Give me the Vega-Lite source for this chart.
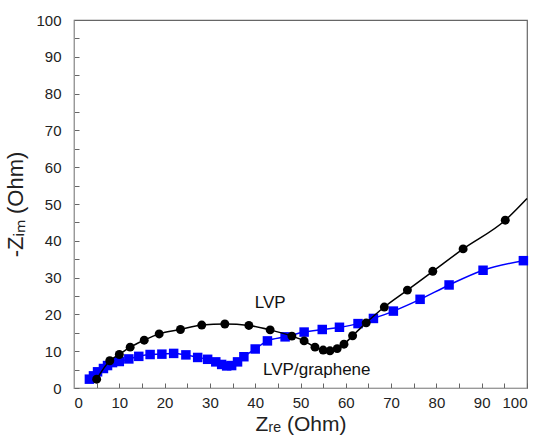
{
  "$schema": "https://vega.github.io/schema/vega-lite/v6.json",
  "width": 453,
  "height": 368,
  "autosize": {"type": "none"},
  "padding": {"left": 74, "top": 20, "right": 14, "bottom": 47},
  "background": "white",
  "config": {
    "view": {"stroke": "#666", "strokeWidth": 1.2},
    "font": "Liberation Sans"
  },
  "datasets": {
    "lvp": [
      {"x": 5.0, "y": 2.4, "m": 1},
      {"x": 7.9, "y": 7.4, "m": 1},
      {"x": 10.0, "y": 9.1, "m": 1},
      {"x": 12.4, "y": 11.1, "m": 1},
      {"x": 15.5, "y": 13.0, "m": 1},
      {"x": 18.8, "y": 14.7, "m": 1},
      {"x": 23.5, "y": 15.9, "m": 1},
      {"x": 28.2, "y": 17.1, "m": 1},
      {"x": 33.3, "y": 17.4, "m": 1},
      {"x": 38.6, "y": 17.0, "m": 1},
      {"x": 43.3, "y": 15.8, "m": 1},
      {"x": 48.1, "y": 14.1, "m": 1},
      {"x": 50.8, "y": 12.8, "m": 1},
      {"x": 53.2, "y": 11.1, "m": 1},
      {"x": 55.0, "y": 10.3, "m": 1},
      {"x": 56.5, "y": 10.1, "m": 1},
      {"x": 58.1, "y": 10.7, "m": 1},
      {"x": 59.6, "y": 11.9, "m": 1},
      {"x": 61.5, "y": 14.2, "m": 1},
      {"x": 64.5, "y": 17.7, "m": 1},
      {"x": 68.5, "y": 22.0, "m": 1},
      {"x": 73.6, "y": 26.6, "m": 1},
      {"x": 79.2, "y": 31.7, "m": 1},
      {"x": 85.9, "y": 37.8, "m": 1},
      {"x": 95.2, "y": 45.6, "m": 1},
      {"x": 100.0, "y": 51.5, "m": 0}
    ],
    "graphene": [
      {"x": 3.4, "y": 2.4},
      {"x": 4.3, "y": 3.3},
      {"x": 5.2, "y": 4.4},
      {"x": 6.5, "y": 5.3},
      {"x": 7.4, "y": 6.1},
      {"x": 8.5, "y": 6.9},
      {"x": 10.0, "y": 7.2},
      {"x": 12.1, "y": 7.9},
      {"x": 14.3, "y": 8.6},
      {"x": 16.8, "y": 9.1},
      {"x": 19.4, "y": 9.2},
      {"x": 22.0, "y": 9.4},
      {"x": 24.7, "y": 9.0},
      {"x": 27.3, "y": 8.3},
      {"x": 29.5, "y": 7.8},
      {"x": 31.3, "y": 7.1},
      {"x": 32.6, "y": 6.4},
      {"x": 33.7, "y": 6.0},
      {"x": 34.8, "y": 6.1},
      {"x": 36.1, "y": 7.1},
      {"x": 37.5, "y": 8.5},
      {"x": 40.0, "y": 10.6},
      {"x": 42.7, "y": 12.8},
      {"x": 46.6, "y": 13.9},
      {"x": 50.8, "y": 15.2},
      {"x": 54.8, "y": 15.9},
      {"x": 58.6, "y": 16.5},
      {"x": 62.7, "y": 17.5},
      {"x": 66.1, "y": 18.9},
      {"x": 70.5, "y": 20.9},
      {"x": 76.4, "y": 24.1},
      {"x": 82.8, "y": 28.0},
      {"x": 90.3, "y": 32.0},
      {"x": 99.2, "y": 34.6}
    ],
    "labels": [
      {"x": 43.3, "y": 23.1, "t": "LVP"},
      {"x": 53.6, "y": 4.9, "t": "LVP/graphene"}
    ]
  },
  "encoding": {
    "x": {"field": "x", "type": "quantitative", "scale": {"domain": [0, 100], "nice": false},
      "axis": {"title": "Zᵣₑ (Ohm)", "values": [0,5,10,15,20,25,30,35,40,45,50,55,60,65,70,75,80,85,90,95,100],
        "labelOpacity": {"condition": {"test": "datum.value % 10 !== 0", "value": 0}, "value": 1},
        "labelOverlap": false,
        "ticks": true, "tickSize": -5, "tickColor": "#666", "tickWidth": 1, "domainColor": "#999", "grid": false,
        "labelFont": "Liberation Sans", "labelFontSize": 15, "labelColor": "#222", "labelPadding": 12,
        "titleFont": "Liberation Sans", "titleFontSize": 21, "titleFontWeight": "normal", "titleColor": "#222", "titlePadding": 3}},
    "y": {"field": "y", "type": "quantitative", "scale": {"domain": [0, 100], "nice": false},
      "axis": {"title": "-Zᵢₘ (Ohm)", "values": [0,5,10,15,20,25,30,35,40,45,50,55,60,65,70,75,80,85,90,95,100],
        "labelOpacity": {"condition": {"test": "datum.value % 10 !== 0", "value": 0}, "value": 1},
        "labelOverlap": false,
        "ticks": true, "tickSize": -5, "tickColor": "#666", "tickWidth": 1, "domainColor": "#999", "grid": false,
        "labelFont": "Liberation Sans", "labelFontSize": 15, "labelColor": "#222", "labelPadding": 18,
        "titleFont": "Liberation Sans", "titleFontSize": 22, "titleFontWeight": "normal", "titleColor": "#222", "titlePadding": 8}}
  },
  "layer": [
    {
      "data": {"name": "graphene"},
      "mark": {"type": "line", "color": "#0000FF", "strokeWidth": 1.5, "interpolate": "monotone"}
    },
    {
      "data": {"name": "graphene"},
      "mark": {"type": "point", "shape": "square", "filled": true, "color": "#0000FF", "opacity": 1, "size": 90}
    },
    {
      "data": {"name": "lvp"},
      "mark": {"type": "line", "color": "#000000", "strokeWidth": 1.5, "interpolate": "monotone"}
    },
    {
      "data": {"name": "lvp"},
      "transform": [{"filter": "datum.m === 1"}],
      "mark": {"type": "point", "shape": "circle", "filled": true, "color": "#000000", "opacity": 1, "size": 80}
    },
    {
      "data": {"name": "labels"},
      "mark": {"type": "text", "fontSize": 17, "font": "Liberation Sans", "color": "#111"},
      "encoding": {
        "text": {"field": "t"}
      }
    }
  ]
}
